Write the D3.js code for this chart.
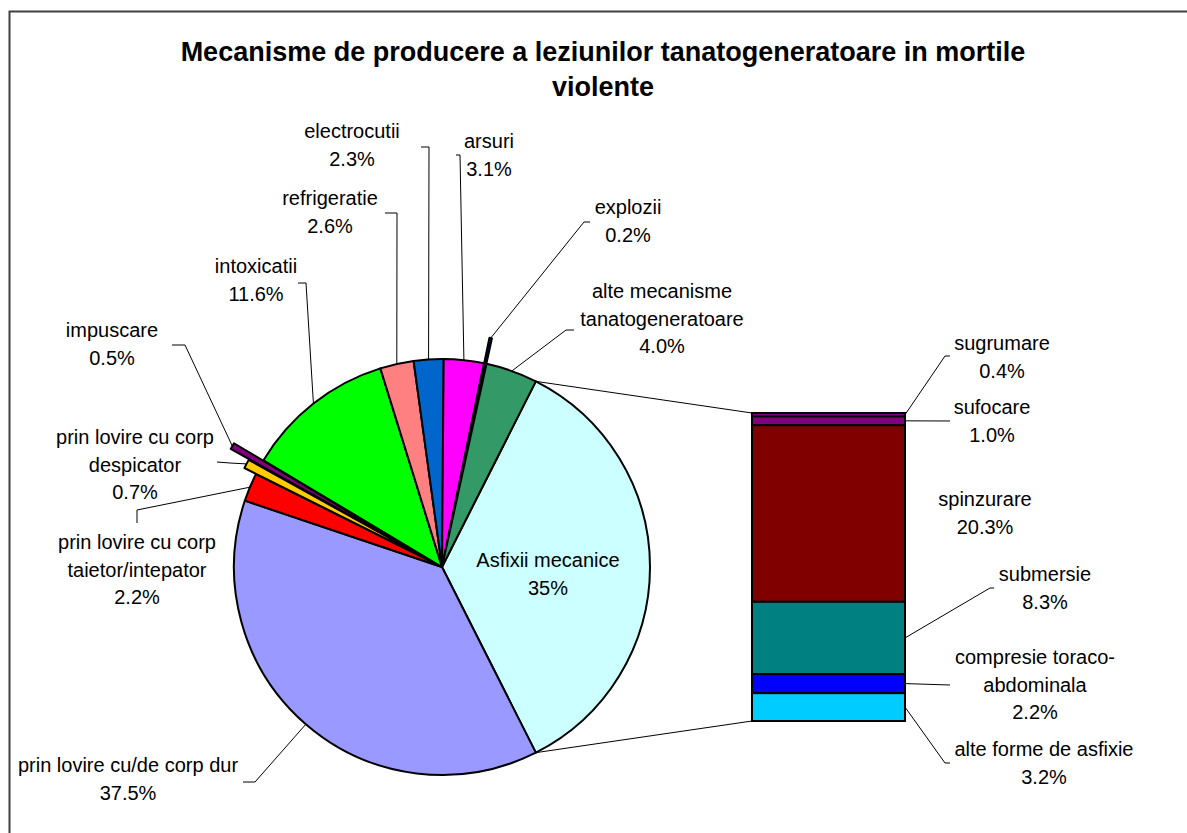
<!DOCTYPE html>
<html>
<head>
<meta charset="utf-8">
<script src="https://cdn.jsdelivr.net/npm/d3@7"></script>
<style>
  html, body { margin: 0; padding: 0; background: #fff; }
  svg text { font-family: "Liberation Sans", Arial, sans-serif; fill: #000; }
</style>
</head>
<body>
<svg id="chart" width="1187" height="833"></svg>
<script>
// ---------------- DATA ----------------
const titleLines = ["Mecanisme de producere a leziunilor tanatogeneratoare in mortile", "violente"];

// pie categories, clockwise starting with the split ("Asfixii mecanice") slice
const pieCategories = [
  "Asfixii mecanice",
  "prin lovire cu/de corp dur",
  "prin lovire cu corp taietor/intepator",
  "prin lovire cu corp despicator",
  "impuscare",
  "intoxicatii",
  "refrigeratie",
  "electrocutii",
  "arsuri",
  "explozii",
  "alte mecanisme tanatogeneratoare"
];
const pieValues = [35, 37.5, 2.2, 0.7, 0.5, 11.6, 2.6, 2.3, 3.1, 0.2, 4.0];
const pieValueLabels = ["35%", "37.5%", "2.2%", "0.7%", "0.5%", "11.6%", "2.6%", "2.3%", "3.1%", "0.2%", "4.0%"];

// bar (breakdown of "Asfixii mecanice"), top to bottom
const barCategories = ["sugrumare", "sufocare", "spinzurare", "submersie", "compresie toraco-abdominala", "alte forme de asfixie"];
const barValues = [0.4, 1.0, 20.3, 8.3, 2.2, 3.2];
const barValueLabels = ["0.4%", "1.0%", "20.3%", "8.3%", "2.2%", "3.2%"];

// ---------------- STYLE / LAYOUT ----------------
const pieColors = ["#CCFFFF", "#9999FF", "#FF0000", "#FFCC00", "#800080", "#00FF00", "#FF8080", "#0066CC", "#FF00FF", "#000080", "#339966"];
const pieExplode = [0, 0, 0, 13, 34, 0, 0, 0, 0, 26, 0];
const barColors = ["#800080", "#800080", "#800000", "#008080", "#0000FF", "#00CCFF"];
const barStrokes = ["none", "#000", "#000", "#000", "#000", "#000"];

const cx = 442, cy = 567, R = 208;
const barX0 = 752, barX1 = 905, barY0 = 413, barY1 = 721;
const LH = 27.5;

// label layout: center x, first baseline y, leader points (label side)
const pieLabelLayout = [
  { lines: ["Asfixii mecanice", "35%"], x: 548, y: 567, leader: null },
  { lines: ["prin lovire cu/de corp dur", "37.5%"], x: 128, y: 772, leader: [[243, 782], [255, 782]] },
  { lines: ["prin lovire cu corp", "taietor/intepator", "2.2%"], x: 137, y: 549, leader: [[137, 523], [137, 510]] },
  { lines: ["prin lovire cu corp", "despicator", "0.7%"], x: 135, y: 444, leader: [[217, 462], [230, 463]] },
  { lines: ["impuscare", "0.5%"], x: 112, y: 337, leader: [[172, 345], [185, 345]] },
  { lines: ["intoxicatii", "11.6%"], x: 256, y: 273, leader: [[298, 283], [306, 283]] },
  { lines: ["refrigeratie", "2.6%"], x: 330, y: 205, leader: [[385, 213], [397, 213]] },
  { lines: ["electrocutii", "2.3%"], x: 352, y: 138, leader: [[421, 147], [429, 147]] },
  { lines: ["arsuri", "3.1%"], x: 489, y: 148, leader: [[456, 155], [460, 155]] },
  { lines: ["explozii", "0.2%"], x: 628, y: 214, leader: [[590, 222], [584, 222]] },
  { lines: ["alte mecanisme", "tanatogeneratoare", "4.0%"], x: 662, y: 298, leader: [[574, 330], [566, 330]] }
];
const barLabelLayout = [
  { lines: ["sugrumare", "0.4%"], x: 1002, y: 350, leader: [[945, 356], [950, 356]] },
  { lines: ["sufocare", "1.0%"], x: 992, y: 414, leader: [[950, 421]] },
  { lines: ["spinzurare", "20.3%"], x: 985, y: 506, leader: null },
  { lines: ["submersie", "8.3%"], x: 1045, y: 581, leader: [[990, 588], [994, 588]] },
  { lines: ["compresie toraco-", "abdominala", "2.2%"], x: 1035, y: 664, leader: [[950, 685]] },
  { lines: ["alte forme de asfixie", "3.2%"], x: 1044, y: 756, leader: [[945, 763], [950, 763]] }
];

// ---------------- DRAW ----------------
const svg = d3.select("#chart");

// outer frame
svg.append("rect")
  .attr("x", 9.5).attr("y", 11.5).attr("width", 1200).attr("height", 840)
  .attr("fill", "#fff").attr("stroke", "#404040").attr("stroke-width", 2);

// title
svg.append("g").selectAll("text").data(titleLines).join("text")
  .attr("x", 603).attr("y", (d, i) => 61 + i * 35)
  .attr("text-anchor", "middle")
  .attr("font-size", "27px").attr("font-weight", "bold")
  .text(d => d);

// pie
const total = d3.sum(pieValues);
const splitAngle = pieValues[0] / total * 2 * Math.PI;
const pie = d3.pie().sort(null).value(d => d)
  .startAngle(Math.PI / 2 - splitAngle / 2)
  .endAngle(Math.PI / 2 - splitAngle / 2 + 2 * Math.PI);
const arcs = pie(pieValues);
const arc = d3.arc().innerRadius(0).outerRadius(R);

const pieG = svg.append("g").attr("transform", `translate(${cx},${cy})`);
pieG.selectAll("path").data(arcs).join("path")
  .attr("d", arc)
  .attr("transform", (d, i) => {
    const m = (d.startAngle + d.endAngle) / 2;
    const o = pieExplode[i];
    return `translate(${o * Math.sin(m)},${-o * Math.cos(m)})`;
  })
  .attr("fill", (d, i) => pieColors[i])
  .attr("stroke", "#000").attr("stroke-width", 2).attr("stroke-linejoin", "round");

// bar
const barScale = d3.scaleLinear().domain([0, d3.sum(barValues)]).range([barY0, barY1]);
const cum = d3.cumsum(barValues);
const barSegs = barValues.map((v, i) => ({ v, y0: barScale(cum[i] - v), y1: barScale(cum[i]) }));

// connector lines from split slice to bar
const a0 = arcs[0].startAngle, a1 = arcs[0].endAngle;
const line = d3.line();
svg.append("path")
  .attr("d", line([[cx + R * Math.sin(a0), cy - R * Math.cos(a0)], [barX0, barY0]]))
  .attr("stroke", "#000").attr("stroke-width", 1).attr("fill", "none");
svg.append("path")
  .attr("d", line([[cx + R * Math.sin(a1), cy - R * Math.cos(a1)], [barX0, barY1]]))
  .attr("stroke", "#000").attr("stroke-width", 1).attr("fill", "none");

const barG = svg.append("g");
barG.selectAll("rect").data(barSegs).join("rect")
  .attr("x", barX0).attr("width", barX1 - barX0)
  .attr("y", d => d.y0).attr("height", d => d.y1 - d.y0)
  .attr("fill", (d, i) => barColors[i])
  .attr("stroke", (d, i) => barStrokes[i]).attr("stroke-width", 2);
barG.append("rect")
  .attr("x", barX0).attr("y", barY0).attr("width", barX1 - barX0).attr("height", barY1 - barY0)
  .attr("fill", "none").attr("stroke", "#000").attr("stroke-width", 2);

// leaders
const leaderG = svg.append("g").attr("fill", "none").attr("stroke", "#000").attr("stroke-width", 1);
arcs.forEach((d, i) => {
  const L = pieLabelLayout[i];
  if (!L.leader) return;
  const m = (d.startAngle + d.endAngle) / 2;
  const rr = R + pieExplode[i];
  const end = [cx + rr * Math.sin(m), cy - rr * Math.cos(m)];
  leaderG.append("path").attr("d", line([...L.leader, end]));
});
barSegs.forEach((d, i) => {
  const L = barLabelLayout[i];
  if (!L.leader) return;
  const start = [barX1, (d.y0 + d.y1) / 2];
  leaderG.append("path").attr("d", line([start, ...L.leader]));
});

function drawLabel(L) {
  const t = svg.append("text").attr("font-size", "20px").attr("text-anchor", "middle");
  L.lines.forEach((s, k) => {
    t.append("tspan").attr("x", L.x).attr("y", L.y + k * LH).text(s);
  });
}
pieLabelLayout.forEach(drawLabel);
barLabelLayout.forEach(drawLabel);
</script>
</body>
</html>
